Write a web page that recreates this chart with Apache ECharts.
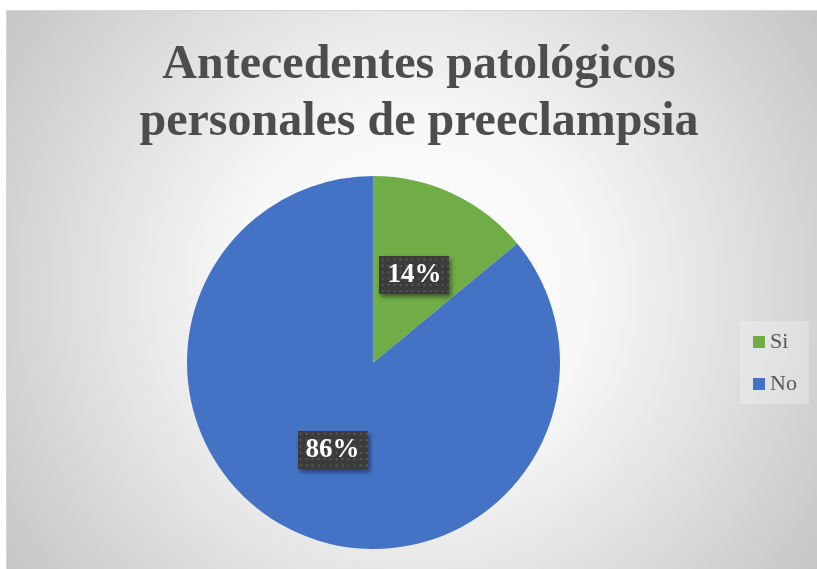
<!DOCTYPE html>
<html>
<head>
<meta charset="utf-8">
<script src="https://cdn.jsdelivr.net/npm/echarts@6/dist/echarts.min.js"></script>
<style>
html,body{margin:0;padding:0;background:#fff;width:817px;height:569px;overflow:hidden;}
#chart{position:absolute;left:6px;top:10px;width:810px;height:558px;border:1px solid #d6d6d6;border-right:none;border-bottom:none;}
</style>
</head>
<body>
<div id="chart"></div>
<script>
const titleLines = ['Antecedentes patológicos', 'personales de preeclampsia'];
const categories = ['Si', 'No'];
const values = [14, 86];
const colors = ['#70AD47', '#4472C4'];

function makePattern(w, h) {
  const c = document.createElement('canvas');
  c.width = w; c.height = h;
  const ctx = c.getContext('2d');
  ctx.fillStyle = '#3b3b3b';
  ctx.fillRect(0, 0, w, h);
  ctx.fillStyle = '#575757';
  for (let y = 2; y < h; y += 6) {
    for (let x = 2; x < w; x += 6) {
      ctx.fillRect(x, y, 2, 2);
    }
  }
  return c;
}
const pattern = makePattern(70, 36);

const chart = echarts.init(document.getElementById('chart'), null, {renderer: 'canvas'});
chart.setOption({
  backgroundColor: {
    type: 'radial', x: 0.5, y: 0.5, r: 0.9,
    colorStops: [
      {offset: 0, color: '#ffffff'},
      {offset: 0.35, color: '#f7f7f7'},
      {offset: 1, color: '#c4c4c4'}
    ]
  },
  title: {
    text: titleLines.join('\n'),
    left: 412,
    top: 26,
    textAlign: 'center',
    padding: 0,
    textStyle: {
      fontFamily: 'Liberation Serif',
      fontWeight: 'bold',
      fontSize: 48,
      lineHeight: 57,
      color: '#4d4d4d'
    }
  },
  legend: {
    orient: 'vertical',
    left: 733,
    top: 310,
    padding: [10, 12, 9, 13],
    backgroundColor: 'rgba(255,255,255,0.25)',
    itemWidth: 12,
    itemHeight: 12,
    itemGap: 20,
    icon: 'rect',
    data: categories,
    textStyle: {
      fontFamily: 'Liberation Serif',
      fontSize: 22,
      lineHeight: 22,
      color: '#595959'
    }
  },
  series: [{
    type: 'pie',
    center: [366.5, 351.5],
    radius: [0, 186.5],
    startAngle: 90,
    clockwise: true,
    avoidLabelOverlap: false,
    animation: false,
    data: categories.map((c, i) => ({name: c, value: values[i], itemStyle: {color: colors[i]}})),
    label: {
      show: true,
      position: 'inside',
      formatter: '{d}%',
      fontFamily: 'Liberation Serif',
      fontWeight: 'bold',
      fontSize: 27,
      color: '#ffffff',
      backgroundColor: {image: pattern},
      padding: [6, 8, 5, 8],
      shadowColor: 'rgba(0,0,0,0.45)',
      shadowBlur: 4,
      shadowOffsetX: 2,
      shadowOffsetY: 3
    },
    labelLine: {show: false},
    emphasis: {disabled: true}
  }]
});
</script>
</body>
</html>
